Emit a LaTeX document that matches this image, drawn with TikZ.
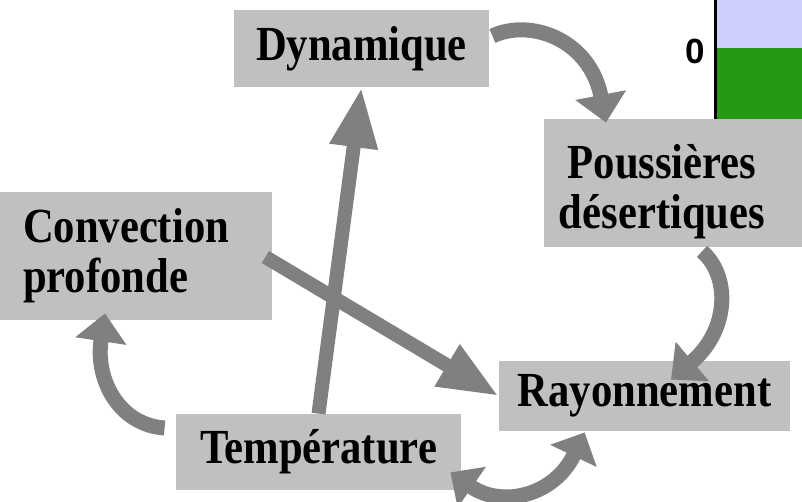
\documentclass[tikz,border=0pt]{standalone}
\usepackage{fontspec}
\usepackage{xcolor}
\usetikzlibrary{arrows.meta, calc}
\newfontfamily\lblfont[FakeStretch=0.87]{Liberation Serif}
\setsansfont{Liberation Sans}
\definecolor{boxgray}{RGB}{192,192,192}
\definecolor{arrowgray}{RGB}{128,128,128}
\definecolor{plotsky}{RGB}{206,206,255}
\definecolor{plotgrass}{RGB}{38,152,22}

\begin{document}
\begin{tikzpicture}[x=0.5pt, y=-0.5pt,
    box/.style={rectangle, fill=boxgray, inner sep=0pt, align=center, font=\lblfont\bfseries\fontsize{24.5}{25}\selectfont},
    straight/.style={draw=arrowgray, line width=7pt, -{Triangle[length=30pt, width=22.5pt]}},
    curved/.style={draw=arrowgray, line width=7.5pt, -{Triangle[length=14pt, width=25pt]}},
    twoway/.style={draw=arrowgray, line width=7.5pt, {Triangle[length=13pt, width=24pt]}-{Triangle[length=13pt, width=25pt]}}
]
\useasboundingbox (0,0) rectangle (802,502);

% Corner of the plot
\fill[plotsky] (717,0) rectangle (802,48);
\fill[plotgrass] (717,48) rectangle (802,119);
\draw[line width=1.5pt] (715.5,0) -- (715.5,119);
\node[font=\sffamily\bfseries\fontsize{17.5}{18}\selectfont] (zero) at (695,51) {0};

% Boxes
\node[box, minimum width=127.5pt, minimum height=38.5pt] (dyn) at (361.5,48.5) {Dynamique};
\node[box, minimum width=129pt, minimum height=64pt, label={[box, fill=none, xshift=-5.5pt, yshift=-4.5pt]center:Poussières\\désertiques}] (dust) at (673,183) {};
\node[box, minimum width=136pt, minimum height=64pt, text width=113pt, inner xsep=11.5pt, align=left] (conv) at (136,256) {Convection\\profonde};
\node[box, minimum width=145.5pt, minimum height=35pt] (ray) at (644.5,396) {Rayonnement};
\node[box, minimum width=142.5pt, minimum height=38pt] (temp) at (318.5,452) {Température};

% Straight arrows
\draw[straight] (temp.north) -- (dyn.south);
\draw[straight] ($(conv.east)+(-7,1)$) -- (ray.west);

% Curved arrows
\draw[curved] ($(dyn.east)+(3,-12.5)$) .. controls +(38,-18) and +(-16,-83) .. ($(dust.north)+(-67,4)$);
\draw[curved] ($(dust.south)+(29,4)$) .. controls +(28,24) and +(59,-50) .. ($(ray.north)+(26.5,19)$);
\draw[curved] ($(temp.west)+(-11,-24)$) .. controls +(-45,-3) and +(-10,67) .. ($(conv.south)+(-31,-7)$);
\draw[twoway] ($(temp.south east)+(-11,-18)$) .. controls +(52,36) and +(-30,63) .. ($(ray.south west)+(86,1)$);

\end{tikzpicture}
\end{document}
